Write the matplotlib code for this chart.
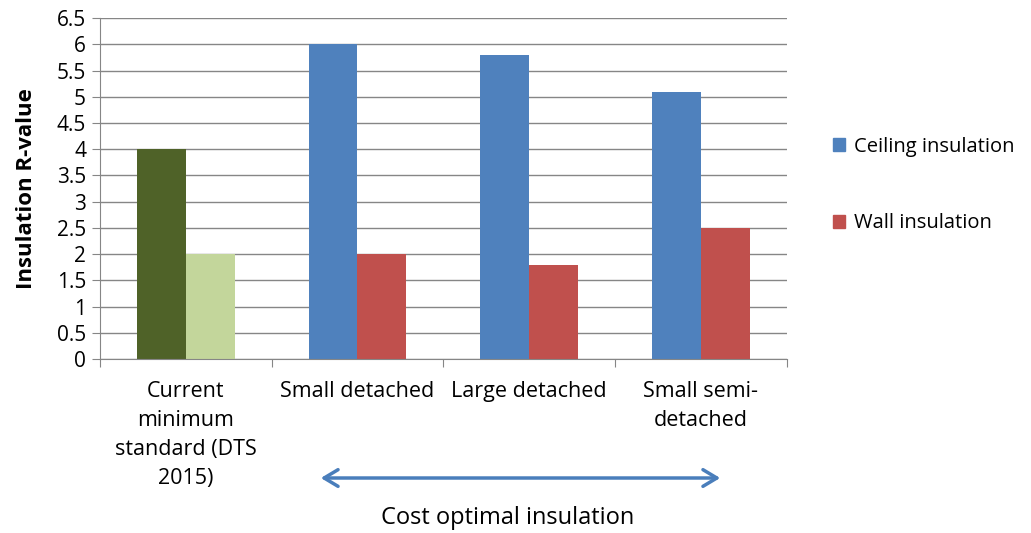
import matplotlib
matplotlib.use("Agg")
import matplotlib.pyplot as plt
from matplotlib.patches import Rectangle, FancyArrowPatch
import numpy as np

categories = ["Current\nminimum\nstandard (DTS\n2015)", "Small detached",
              "Large detached", "Small semi-\ndetached"]
ceiling = [4.0, 6.0, 5.8, 5.1]
wall = [2.0, 2.0, 1.8, 2.5]
yticks = np.arange(0, 6.51, 0.5)

BLUE = "#4f81bd"
RED = "#c0504d"
DKGREEN = "#4f6228"
LTGREEN = "#c3d69b"
GRID = "#868686"

plt.rcParams.update({
    "font.family": ["Open Sans", "DejaVu Sans"],
    "font.size": 15,
})

fig = plt.figure(figsize=(10.31, 5.33), dpi=100)
ax = fig.add_axes([0.097, 0.3265, 0.666, 0.6395])

x = np.arange(len(categories))
w = 0.285
c_cols = [DKGREEN] + [BLUE] * 3
w_cols = [LTGREEN] + [RED] * 3
ax.bar(x - w / 2, ceiling, w, color=c_cols, zorder=2)
ax.bar(x + w / 2, wall, w, color=w_cols, zorder=2)

ax.set_xlim(-0.5, len(categories) - 0.5)
ax.set_ylim(0, 6.5)
ax.set_yticks(yticks)
ax.set_yticklabels([f"{v:g}" for v in yticks], fontsize=15)
ax.yaxis.grid(True, color=GRID, lw=1.0, zorder=0)
ax.set_axisbelow(True)

ax.set_xticks(np.arange(len(categories) + 1) - 0.5, minor=False)
ax.set_xticklabels([""] * (len(categories) + 1))
ax.set_xticks(x, minor=True)
ax.set_xticklabels(categories, minor=True, linespacing=1.5, va="top",
                   fontsize=15.5)
ax.tick_params(axis="x", which="minor", length=0, pad=16)
ax.tick_params(axis="x", which="major", length=6, color=GRID, direction="out")
ax.tick_params(axis="y", length=6, color=GRID, direction="out", pad=4)

for s in ["top", "right"]:
    ax.spines[s].set_visible(False)
for s in ["left", "bottom"]:
    ax.spines[s].set_color(GRID)

ax.set_ylabel("Insulation R-value", fontweight="bold", fontsize=16, labelpad=14)

# legend
h1 = Rectangle((0, 0), 1, 1, color=BLUE)
h2 = Rectangle((0, 0), 1, 1, color=RED)
fig.legend([h1, h2], ["Ceiling insulation", "Wall insulation"],
           loc="upper left", bbox_to_anchor=(0.79, 0.777), frameon=False,
           handlelength=0.6, handleheight=0.6, handletextpad=0.45,
           labelspacing=2.8, fontsize=14.5)

# arrow below axis
fig.patches.append(FancyArrowPatch(
    (318 / 1031, 1 - 478 / 533), (723 / 1031, 1 - 478 / 533),
    transform=fig.transFigure, arrowstyle="<->,head_length=10,head_width=6",
    color="#4a7ebb", lw=2.5, mutation_scale=1))
fig.text(508 / 1031, 1 - 518 / 533, "Cost optimal insulation",
         ha="center", va="center", fontsize=17)

fig.savefig("out.png", dpi=100)
